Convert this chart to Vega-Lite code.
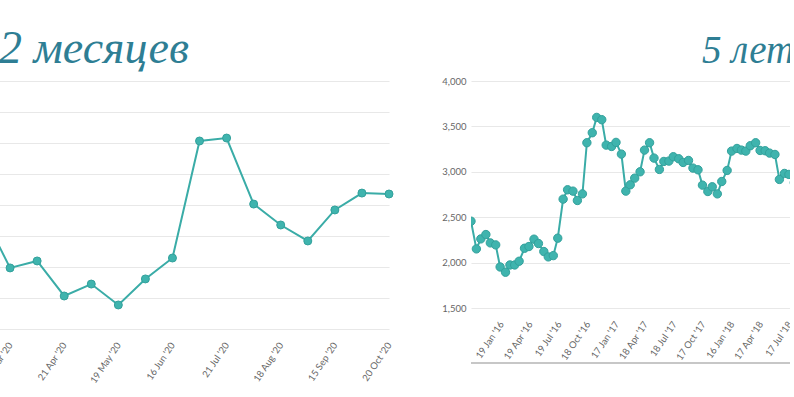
{
  "$schema": "https://vega.github.io/schema/vega-lite/v6.json",
  "background": "white",
  "padding": {"left": -24, "top": 26, "right": -5, "bottom": 0},
  "spacing": 46,
  "config": {
    "view": {"stroke": null},
    "axis": {"labelFont": "Lato", "labelColor": "#666666", "labelFontSize": 9.5, "gridColor": "#e8e8e8", "gridWidth": 1.2, "domain": false, "ticks": false, "labelOverlap": false},
    "title": {"font": "Liberation Serif", "fontStyle": "italic", "fontWeight": "normal", "color": "#2e7e94", "anchor": "start", "frame": "group", "baseline": "alphabetic"}
  },
  "datasets": {
    "m12": [
      {"date": "10 Mar '20", "v": 2742},
      {"date": "24 Mar '20", "v": 2394},
      {"date": "7 Apr '20", "v": 2439},
      {"date": "21 Apr '20", "v": 2213},
      {"date": "5 May '20", "v": 2290},
      {"date": "19 May '20", "v": 2155},
      {"date": "2 Jun '20", "v": 2323},
      {"date": "16 Jun '20", "v": 2458},
      {"date": "7 Jul '20", "v": 3213},
      {"date": "21 Jul '20", "v": 3232},
      {"date": "4 Aug '20", "v": 2806},
      {"date": "18 Aug '20", "v": 2671},
      {"date": "1 Sep '20", "v": 2568},
      {"date": "15 Sep '20", "v": 2768},
      {"date": "6 Oct '20", "v": 2877},
      {"date": "20 Oct '20", "v": 2871}
    ],
    "y5": [
      {"date": "2015-10-15", "v": 2456},
      {"date": "2015-11-01", "v": 2151},
      {"date": "2015-11-15", "v": 2261},
      {"date": "2015-12-01", "v": 2309},
      {"date": "2015-12-15", "v": 2217},
      {"date": "2016-01-01", "v": 2195},
      {"date": "2016-01-15", "v": 1952},
      {"date": "2016-02-01", "v": 1894},
      {"date": "2016-02-15", "v": 1974},
      {"date": "2016-03-01", "v": 1974},
      {"date": "2016-03-15", "v": 2015},
      {"date": "2016-04-01", "v": 2158},
      {"date": "2016-04-15", "v": 2177},
      {"date": "2016-05-01", "v": 2258},
      {"date": "2016-05-15", "v": 2210},
      {"date": "2016-06-01", "v": 2122},
      {"date": "2016-06-15", "v": 2063},
      {"date": "2016-07-01", "v": 2077},
      {"date": "2016-07-15", "v": 2269},
      {"date": "2016-08-01", "v": 2699},
      {"date": "2016-08-15", "v": 2802},
      {"date": "2016-09-01", "v": 2787},
      {"date": "2016-09-15", "v": 2684},
      {"date": "2016-10-01", "v": 2757},
      {"date": "2016-10-15", "v": 3320},
      {"date": "2016-11-01", "v": 3430},
      {"date": "2016-11-15", "v": 3599},
      {"date": "2016-12-01", "v": 3574},
      {"date": "2016-12-15", "v": 3294},
      {"date": "2017-01-01", "v": 3279},
      {"date": "2017-01-15", "v": 3324},
      {"date": "2017-02-01", "v": 3195},
      {"date": "2017-02-15", "v": 2787},
      {"date": "2017-03-01", "v": 2857},
      {"date": "2017-03-15", "v": 2930},
      {"date": "2017-04-01", "v": 3000},
      {"date": "2017-04-15", "v": 3239},
      {"date": "2017-05-01", "v": 3320},
      {"date": "2017-05-15", "v": 3151},
      {"date": "2017-06-01", "v": 3026},
      {"date": "2017-06-15", "v": 3114},
      {"date": "2017-07-01", "v": 3118},
      {"date": "2017-07-15", "v": 3166},
      {"date": "2017-08-01", "v": 3144},
      {"date": "2017-08-15", "v": 3103},
      {"date": "2017-09-01", "v": 3125},
      {"date": "2017-09-15", "v": 3041},
      {"date": "2017-10-01", "v": 3022},
      {"date": "2017-10-15", "v": 2853},
      {"date": "2017-11-01", "v": 2783},
      {"date": "2017-11-15", "v": 2835},
      {"date": "2017-12-01", "v": 2757},
      {"date": "2017-12-15", "v": 2893},
      {"date": "2018-01-01", "v": 3015},
      {"date": "2018-01-15", "v": 3228},
      {"date": "2018-02-01", "v": 3257},
      {"date": "2018-02-15", "v": 3239},
      {"date": "2018-03-01", "v": 3228},
      {"date": "2018-03-15", "v": 3287},
      {"date": "2018-04-01", "v": 3320},
      {"date": "2018-04-15", "v": 3235},
      {"date": "2018-05-01", "v": 3232},
      {"date": "2018-05-15", "v": 3206},
      {"date": "2018-06-01", "v": 3191},
      {"date": "2018-06-15", "v": 2916},
      {"date": "2018-07-01", "v": 2982},
      {"date": "2018-07-15", "v": 2971},
      {"date": "2018-08-01", "v": 2880}
    ]
  },
  "hconcat": [
    {
      "width": 406,
      "height": 248,
      "title": {"text": "12 месяцев", "fontSize": 46, "dx": -7, "offset": 8},
      "data": {"name": "m12"},
      "encoding": {
        "x": {"field": "date", "type": "nominal", "sort": null, "title": null,
              "scale": {"type": "point", "padding": 0},
              "axis": {"values": ["24 Mar '20", "21 Apr '20", "19 May '20", "16 Jun '20", "21 Jul '20", "18 Aug '20", "15 Sep '20", "20 Oct '20"],
                       "labelAngle": -56, "labelAlign": "right", "labelBaseline": "middle", "labelPadding": 14, "grid": false, "labelOverlap": false}},
        "y": {"field": "v", "type": "quantitative", "title": null,
              "scale": {"domain": [2000, 3600], "nice": false, "zero": false},
              "axis": {"labels": false, "grid": true, "values": [2000, 2200, 2400, 2600, 2800, 3000, 3200, 3400, 3600]}}
      },
      "layer": [
        {"mark": {"type": "line", "color": "#3aaca7", "strokeWidth": 2}},
        {"mark": {"type": "circle", "size": 64, "color": "#3fb4ae", "opacity": 1, "stroke": "#33a19c", "strokeWidth": 1}}
      ]
    },
    {
      "width": 322,
      "height": 227,
      "title": {"text": "5 лет", "fontSize": 39, "dx": 231, "offset": 5},
      "data": {"name": "y5"},
      "encoding": {
        "y": {"field": "v", "type": "quantitative", "title": null,
              "scale": {"domain": [1500, 4000], "nice": false, "zero": false},
              "axis": {"grid": true, "values": [1500, 2000, 2500, 3000, 3500, 4000], "format": ",d", "labelPadding": 5}}
      },
      "layer": [
        {"mark": {"type": "rule", "color": "#c8c8c8", "strokeWidth": 1}, "encoding": {"y": {"datum": 894}}},
        {
          "encoding": {
            "x": {"field": "date", "type": "temporal", "title": null,
                  "scale": {"type": "utc", "nice": false, "domain": [{"year": 2015, "month": 10, "date": 15, "utc": true}, {"year": 2018, "month": 7, "date": 28, "utc": true}]},
                  "axis": {"values": [
                    {"year": 2016, "month": 1, "date": 19, "utc": true},
                    {"year": 2016, "month": 4, "date": 19, "utc": true},
                    {"year": 2016, "month": 7, "date": 19, "utc": true},
                    {"year": 2016, "month": 10, "date": 18, "utc": true},
                    {"year": 2017, "month": 1, "date": 17, "utc": true},
                    {"year": 2017, "month": 4, "date": 18, "utc": true},
                    {"year": 2017, "month": 7, "date": 18, "utc": true},
                    {"year": 2017, "month": 10, "date": 17, "utc": true},
                    {"year": 2018, "month": 1, "date": 16, "utc": true},
                    {"year": 2018, "month": 4, "date": 17, "utc": true},
                    {"year": 2018, "month": 7, "date": 17, "utc": true}
                  ], "format": "%d %b '%y", "labelAngle": -56, "labelAlign": "right", "labelBaseline": "middle", "labelPadding": 14, "grid": false, "labelOverlap": false, "labelFlush": false}}
          },
          "layer": [
            {"mark": {"type": "line", "color": "#3aaca7", "strokeWidth": 2, "clip": true}},
            {"mark": {"type": "circle", "size": 70, "color": "#3fb4ae", "opacity": 1, "stroke": "#33a19c", "strokeWidth": 1, "clip": true}}
          ]
        }
      ]
    }
  ]
}
